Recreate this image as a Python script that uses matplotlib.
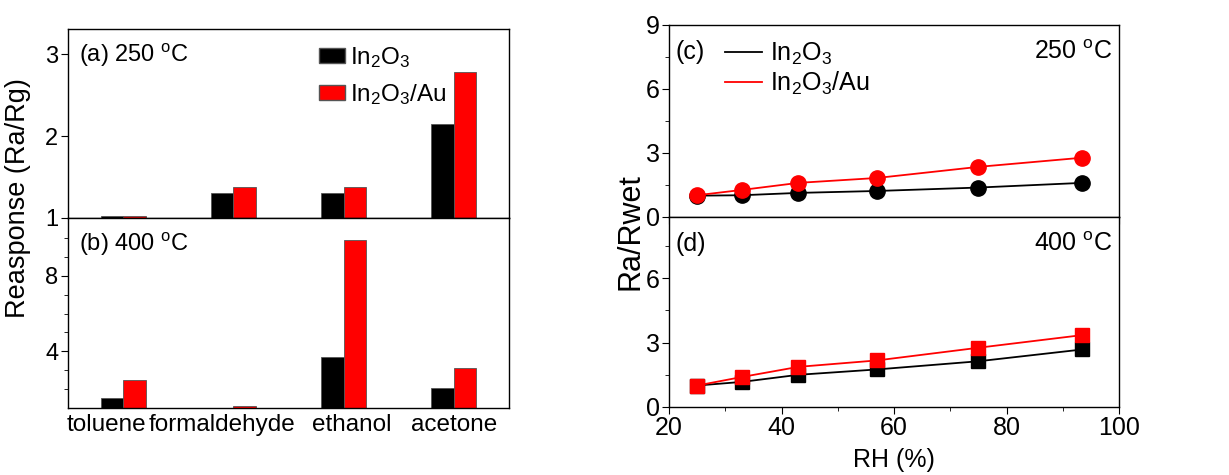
import numpy as np
import matplotlib
matplotlib.use('Agg')
import matplotlib.pyplot as plt
from matplotlib.patches import Patch
from matplotlib.lines import Line2D

plt.rcParams['font.family'] = ['Liberation Sans', 'DejaVu Sans']
plt.rcParams['mathtext.fontset'] = 'custom'
plt.rcParams['mathtext.rm'] = 'Liberation Sans'
plt.rcParams['mathtext.it'] = 'Liberation Sans'
plt.rcParams['axes.linewidth'] = 1.0

# gases and responses (bar panels)
gases = ['toluene', 'formaldehyde', 'ethanol', 'acetone']
gas_label_pos = [-0.15, 0.895, 2.07, 3.0]   # labels are not centred under the bars in the original
resp_250_in2o3 = [1.02, 1.31, 1.31, 2.15]
resp_250_au = [1.03, 1.38, 1.38, 2.79]
resp_400_in2o3 = [1.53, 1.0, 3.72, 2.05]
resp_400_au = [2.49, 1.08, 9.87, 3.13]

# humidity (line panels)
rh = [25, 33, 43, 57, 75, 93.5]
rwet_250_in2o3 = [1.0, 1.02, 1.13, 1.22, 1.38, 1.6]
rwet_250_au = [1.02, 1.27, 1.6, 1.83, 2.35, 2.78]
rwet_400_in2o3 = [1.0, 1.17, 1.5, 1.75, 2.13, 2.68]
rwet_400_au = [1.0, 1.4, 1.87, 2.17, 2.76, 3.35]

lbl1 = r'In$_{\rm 2}$O$_{\rm 3}$'
lbl2 = r'In$_{\rm 2}$O$_{\rm 3}$/Au'
deg = r'$^{\rm o}$C'

W, H = 1229, 475
fig = plt.figure(figsize=(W / 100, H / 100), dpi=100)


def px_axes(left, top, right, bottom):
    return fig.add_axes([left / W, 1 - bottom / H, (right - left) / W, (bottom - top) / H])


ax_a = px_axes(68, 29, 509, 218)
ax_b = px_axes(68, 218, 509, 408)
ax_c = px_axes(669, 25, 1119, 217)
ax_d = px_axes(669, 217, 1119, 407)

x = np.arange(len(gases))
bw = 0.205
edge = '#555555'

# (a) 250 C bars
ax_a.bar(x - bw / 2, np.array(resp_250_in2o3) - 1, bw, bottom=1, color='black', edgecolor=edge, lw=0.6)
ax_a.bar(x + bw / 2, np.array(resp_250_au) - 1, bw, bottom=1, color='red', edgecolor=edge, lw=0.6)
ax_a.set_xlim(-0.5, 3.5)
ax_a.set_ylim(1, 3.31)
ax_a.set_yticks([1, 2, 3])
ax_a.tick_params(axis='y', direction='out', length=5, labelsize=17, pad=2)
ax_a.tick_params(axis='x', bottom=False, labelbottom=False)
ax_a.text(0.025, 0.86, '(a) 250 ' + deg, transform=ax_a.transAxes, fontsize=17, va='center')
ax_a.legend(handles=[Patch(facecolor='black', edgecolor=edge, label=lbl1),
                     Patch(facecolor='red', edgecolor=edge, label=lbl2)],
            loc='upper left', bbox_to_anchor=(0.52, 1.03), frameon=False, fontsize=17.5,
            handlelength=1.05, handleheight=0.6, handletextpad=0.2, labelspacing=0.5)

# (b) 400 C bars
ax_b.bar(x - bw / 2, np.array(resp_400_in2o3) - 1, bw, bottom=1, color='black', edgecolor=edge, lw=0.6)
ax_b.bar(x + bw / 2, np.array(resp_400_au) - 1, bw, bottom=1, color='red', edgecolor=edge, lw=0.6)
ax_b.set_xlim(-0.5, 3.5)
ax_b.set_ylim(1, 11.06)
ax_b.set_yticks([4, 8])
ax_b.set_yticks(range(2, 11), minor=True)
ax_b.tick_params(axis='y', which='major', direction='out', length=5, labelsize=17, pad=2)
ax_b.tick_params(axis='y', which='minor', direction='out', length=3)
ax_b.set_xticks(gas_label_pos)
ax_b.set_xticklabels(gases)
ax_b.tick_params(axis='x', length=0, labelsize=17.5, pad=4)
ax_b.text(0.025, 0.86, '(b) 400 ' + deg, transform=ax_b.transAxes, fontsize=17, va='center')

fig.text(18 / W, 1 - 198 / H, 'Reasponse (Ra/Rg)', rotation=90, fontsize=19.5, ha='center', va='center')

# (c) 250 C humidity
ax_c.plot(rh, rwet_250_in2o3, color='black', lw=1.3, marker='o', ms=11)
ax_c.plot(rh, rwet_250_au, color='red', lw=1.3, marker='o', ms=11)
ax_c.set_xlim(20, 100)
ax_c.set_ylim(0, 9)
ax_c.set_yticks([0, 3, 6, 9])
ax_c.set_yticks(np.arange(1.5, 9, 3), minor=True)
ax_c.set_xticks(range(20, 101, 20))
ax_c.set_xticks(range(30, 100, 20), minor=True)
ax_c.tick_params(which='major', direction='out', length=5, labelsize=18, pad=1.5)
ax_c.tick_params(which='minor', direction='out', length=3)
ax_c.tick_params(axis='x', labelbottom=False)
ax_c.text(0.015, 0.86, '(c)', transform=ax_c.transAxes, fontsize=18, va='center')
ax_c.text(0.985, 0.86, '250 ' + deg, transform=ax_c.transAxes, fontsize=18, va='center', ha='right')
ax_c.legend(handles=[Line2D([], [], color='black', lw=1.3, label=lbl1),
                     Line2D([], [], color='red', lw=1.3, label=lbl2)],
            loc='upper left', bbox_to_anchor=(0.075, 1.035), frameon=False, fontsize=18,
            handlelength=1.45, handletextpad=0.35, labelspacing=0.12)

# (d) 400 C humidity
ax_d.plot(rh, rwet_400_in2o3, color='black', lw=1.3, marker='s', ms=10)
ax_d.plot(rh, rwet_400_au, color='red', lw=1.3, marker='s', ms=10)
ax_d.set_xlim(20, 100)
ax_d.set_ylim(0, 8.85)
ax_d.set_yticks([0, 3, 6])
ax_d.set_yticks(np.arange(1.5, 9, 3), minor=True)
ax_d.set_xticks(range(20, 101, 20))
ax_d.set_xticks(range(30, 100, 20), minor=True)
ax_d.tick_params(which='major', direction='out', length=5, labelsize=18, pad=1.5)
ax_d.tick_params(which='minor', direction='out', length=3)
ax_d.set_xlabel('RH (%)', fontsize=18, labelpad=6)
ax_d.text(0.015, 0.86, '(d)', transform=ax_d.transAxes, fontsize=18, va='center')
ax_d.text(0.985, 0.86, '400 ' + deg, transform=ax_d.transAxes, fontsize=18, va='center', ha='right')

fig.text(631 / W, 1 - 232 / H, 'Ra/Rwet', rotation=90, fontsize=22, ha='center', va='center')

fig.savefig('out.png', dpi=100)
